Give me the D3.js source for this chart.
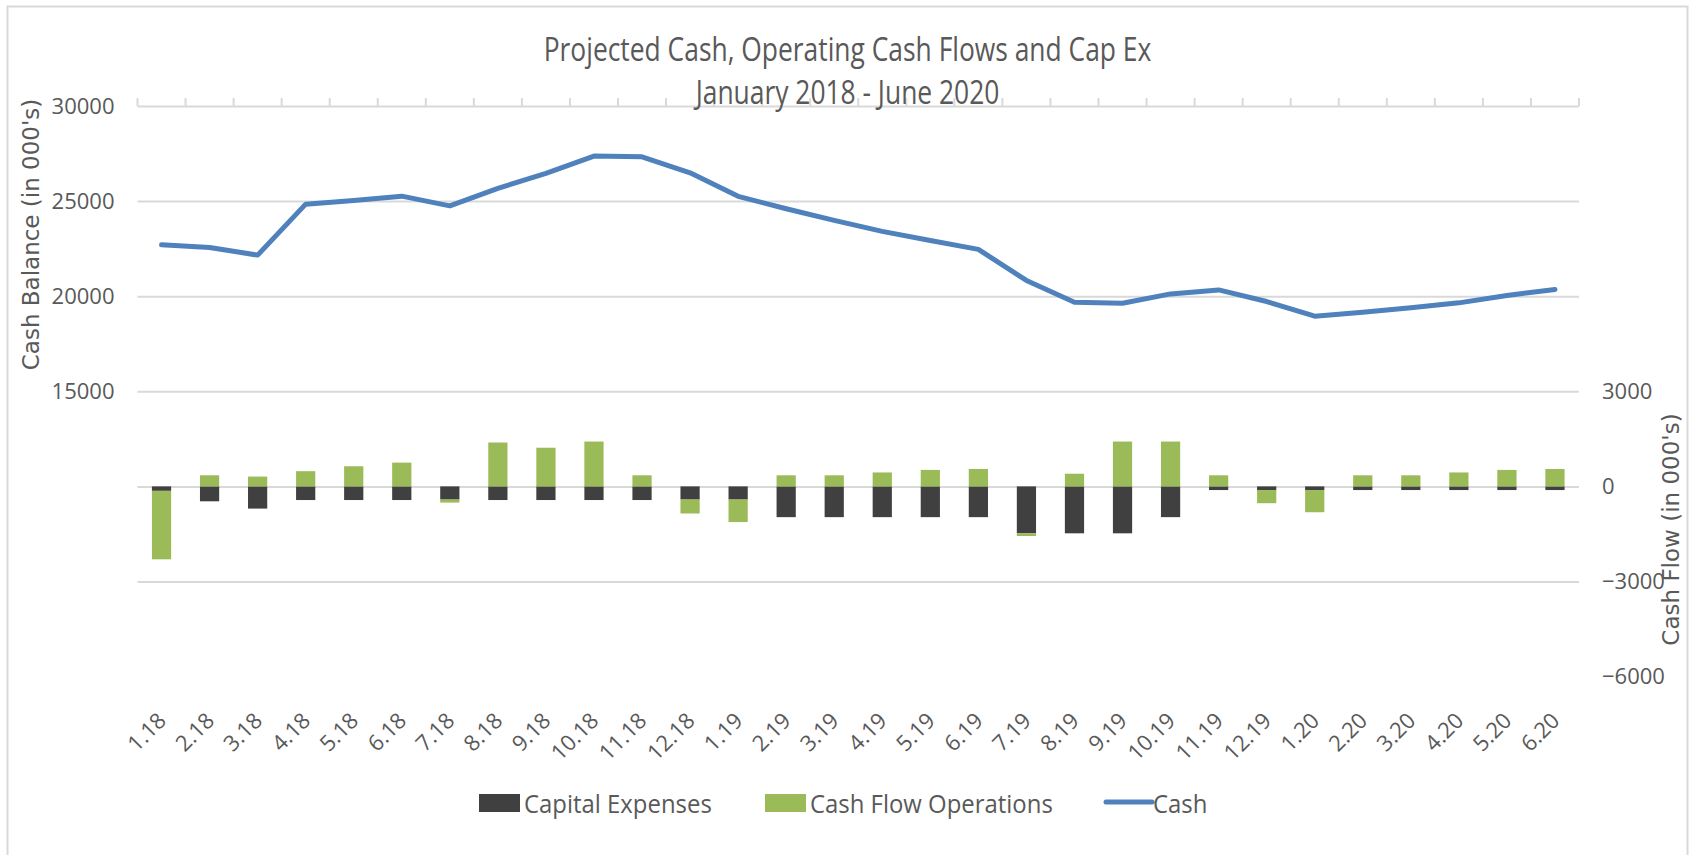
<!DOCTYPE html>
<html>
<head>
<meta charset="utf-8">
<script src="https://cdn.jsdelivr.net/npm/d3@7"></script>
<style>
  body { margin: 0; background: #fff; }
  text { fill: #595959; }
</style>
</head>
<body>
<script>
// months Jan 2018 - Jun 2020
var months = ["1.18", "2.18", "3.18", "4.18", "5.18", "6.18", "7.18", "8.18", "9.18", "10.18", "11.18", "12.18",
  "1.19", "2.19", "3.19", "4.19", "5.19", "6.19", "7.19", "8.19", "9.19", "10.19", "11.19", "12.19",
  "1.20", "2.20", "3.20", "4.20", "5.20", "6.20"];

var cash = [22700, 22560, 22160, 24840, 25030, 25260, 24750, 25670, 26460, 27370, 27330, 26490,
  25250, 24600, 23990, 23410, 22930, 22460, 20830, 19680, 19630, 20120, 20330, 19720,
  18950, 19160, 19390, 19650, 20040, 20350];

var capex = [-140, -470, -700, -430, -430, -430, -415, -430, -430, -430, -430, -415,
  -415, -970, -970, -970, -970, -970, -1480, -1480, -1480, -970, -115, -115,
  -115, -115, -115, -115, -115, -115];

var cfo = [-2160, 350, 310, 480, 635, 750, -95, 1385, 1220, 1415, 350, -440,
  -710, 350, 350, 440, 520, 550, -85, 400, 1415, 1415, 350, -415,
  -700, 350, 350, 440, 520, 550];

var leftTicks = [15000, 20000, 25000, 30000];
var gridTicks = [5000, 10000, 15000, 20000, 25000, 30000];
var rightTicks = [-6000, -3000, 0, 3000];
var seriesNames = ["Capital Expenses", "Cash Flow Operations", "Cash"];
var colors = ["#404040", "#9BBB59", "#4F81BD"];

var W = 1693, H = 855;
var x0 = 137.5, x1 = 1579, yTop = 106, yBot = 676.6;

var svg = d3.select("body")
    .append("svg")
    .attr("width", W)
    .attr("height", H);

// chart frame
svg.append("rect")
    .attr("x", 7.5).attr("y", 6.5)
    .attr("width", 1680).attr("height", 870)
    .style("fill", "none")
    .style("stroke", "#d9d9d9")
    .style("stroke-width", 2);

var xCat = d3.scaleBand().domain(months).range([x0, x1]);
var yL = d3.scaleLinear().domain([0, 30000]).range([yBot, yTop]);
var yR = d3.scaleLinear().domain([-6000, 12000]).range([yBot, yTop]);

// gridlines
var grid = svg.append("g")
    .attr("transform", "translate(" + x0 + ",0)")
    .call(d3.axisLeft(yL).tickValues(gridTicks).tickSize(-(x1 - x0)).tickFormat(""));
grid.select(".domain").remove();
grid.selectAll("line").style("stroke", "#d9d9d9").style("stroke-width", 2);

// category tick marks at the top axis
var bounds = months.map(function(m) {return xCat(m);}).concat([x1]);
svg.selectAll("line.cat")
  .data(bounds)
  .enter()
  .append("line")
    .attr("class", "cat")
    .attr("x1", function(d) {return d;})
    .attr("x2", function(d) {return d;})
    .attr("y1", yTop)
    .attr("y2", yTop - 8)
    .style("stroke", "#d9d9d9")
    .style("stroke-width", 2);

// left axis labels
var la = svg.append("g")
    .attr("transform", "translate(" + x0 + ",0)")
    .call(d3.axisLeft(yL).tickValues(leftTicks).tickSize(0).tickPadding(23).tickFormat(d3.format("d")));
la.select(".domain").remove();
la.selectAll("text").style("font-family", "'Open Sans'").style("font-size", "22px").style("fill", "#595959");

// right axis labels
var ra = svg.append("g")
    .attr("transform", "translate(" + x1 + ",0)")
    .call(d3.axisRight(yR).tickValues(rightTicks).tickSize(0).tickPadding(23).tickFormat(d3.format("d")));
ra.select(".domain").remove();
ra.selectAll("text").style("font-family", "'Open Sans'").style("font-size", "22px").style("fill", "#595959");

// stacked bars
var rows = months.map(function(m, i) {return {month: m, capex: capex[i], cfo: cfo[i]};});
var stack = d3.stack().keys(["capex", "cfo"]).offset(d3.stackOffsetDiverging);
var layers = stack(rows);
var bw = xCat.bandwidth() * 0.4;

svg.selectAll("g.layer")
  .data(layers)
  .enter()
  .append("g")
    .attr("class", "layer")
    .style("fill", function(d, i) {return colors[i];})
  .selectAll("rect")
  .data(function(d) {return d;})
  .enter()
  .append("rect")
    .attr("x", function(d) {return xCat(d.data.month) + xCat.bandwidth() * 0.3;})
    .attr("y", function(d) {return yR(Math.max(d[0], d[1]));})
    .attr("width", bw)
    .attr("height", function(d) {return Math.abs(yR(d[0]) - yR(d[1]));});

// cash line
var line = d3.line()
  .x(function(d, i) {return xCat(months[i]) + xCat.bandwidth() / 2;})
  .y(function(d) {return yL(d);});

svg.append("path")
    .datum(cash)
    .attr("d", line)
    .style("fill", "none")
    .style("stroke", colors[2])
    .style("stroke-width", 5)
    .style("stroke-linejoin", "round")
    .style("stroke-linecap", "round");

// x labels
svg.selectAll("text.xl")
  .data(months)
  .enter()
  .append("text")
    .attr("class", "xl")
    .attr("transform", function(d) {
      return "translate(" + (xCat(d) + xCat.bandwidth() / 2 + 6) + ",722) rotate(-45)";
    })
    .style("text-anchor", "end")
    .style("font-family", "'Open Sans'")
    .style("font-size", "22px")
    .text(function(d) {return d;});

// narrow text helper
function ntext(x, y, str, size, anchor, sx) {
  return svg.append("text")
    .attr("transform", "translate(" + x + "," + y + ") scale(" + sx + ",1)")
    .style("text-anchor", anchor)
    .style("font-family", "'Open Sans'")
    .style("font-size", size + "px")
    .text(str);
}

ntext(847.5, 61, "Projected Cash, Operating Cash Flows and Cap Ex", 33, "middle", 0.8);
ntext(847.5, 104, "January 2018 - June 2020", 33, "middle", 0.8);

// axis titles
svg.append("text")
    .attr("transform", "translate(39,234.5) rotate(-90)")
    .style("text-anchor", "middle")
    .style("font-family", "'DejaVu Sans'")
    .style("font-size", "23px")
    .text("Cash Balance (in 000's)");

svg.append("text")
    .attr("transform", "translate(1679,529.5) rotate(-90)")
    .style("text-anchor", "middle")
    .style("font-family", "'DejaVu Sans'")
    .style("font-size", "23px")
    .text("Cash Flow (in 000's)");

// legend
var legX = [479, 765, 1106];
var legTextX = [524, 810, 1153];
var leg = svg.selectAll("g.leg")
  .data(seriesNames)
  .enter()
  .append("g")
    .attr("class", "leg");

leg.filter(function(d, i) {return i < 2;})
  .append("rect")
    .attr("x", function(d, i) {return legX[i];})
    .attr("y", 794)
    .attr("width", 41)
    .attr("height", 18)
    .style("fill", function(d, i) {return colors[i];});

leg.filter(function(d, i) {return i == 2;})
  .append("line")
    .attr("x1", legX[2]).attr("x2", legX[2] + 46)
    .attr("y1", 802).attr("y2", 802)
    .style("stroke", colors[2])
    .style("stroke-width", 5)
    .style("stroke-linecap", "round");

leg.append("text")
    .attr("transform", function(d, i) {return "translate(" + legTextX[i] + ",813) scale(0.92,1)";})
    .style("font-family", "'Open Sans'")
    .style("font-size", "26px")
    .text(function(d) {return d;});
</script>
</body>
</html>
